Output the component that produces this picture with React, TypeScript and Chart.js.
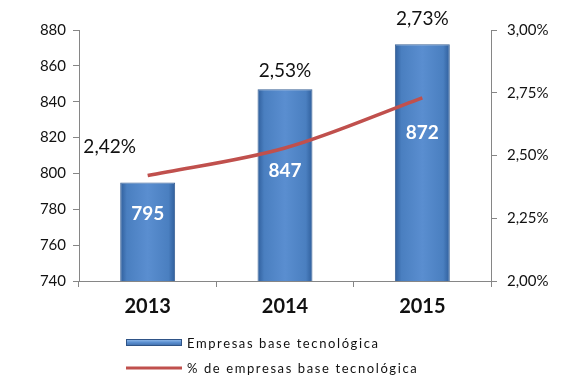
import React, { useEffect, useRef } from "react";
import { Chart, registerables } from "chart.js";

Chart.register(...registerables);

const categories = ["2013", "2014", "2015"];
const empresas = [795, 847, 872];
const porcentaje = [2.42, 2.53, 2.73];
const leftTicks = [740, 760, 780, 800, 820, 840, 860, 880];
const rightTicks = [2.0, 2.25, 2.5, 2.75, 3.0];
const seriesNames = ["Empresas base tecnológica", "% de empresas base tecnológica"];

const FONT = "Lato, 'Open Sans', 'DejaVu Sans', sans-serif";
const fmtPct = (v: number) => v.toFixed(2).replace(".", ",") + "%";

const labelsPlugin = {
  id: "customLabels",
  afterDatasetsDraw(chart: any) {
    const ctx = chart.ctx;
    const barMeta = chart.getDatasetMeta(1);
    const pctOffsets = [
      [-38, -36],
      [0, -18],
      [0, -25],
    ];
    const barOffsets = [31, 82, 89];
    ctx.save();
    ctx.textAlign = "center";
    ctx.textBaseline = "middle";
    barMeta.data.forEach((el: any, i: number) => {
      ctx.fillStyle = "#ffffff";
      ctx.font = `bold 19px ${FONT}`;
      ctx.fillText(String(empresas[i]), el.x, el.y + barOffsets[i]);
      ctx.fillStyle = "#111111";
      ctx.font = `19px ${FONT}`;
      ctx.fillText(fmtPct(porcentaje[i]), el.x + pctOffsets[i][0], el.y + pctOffsets[i][1]);
    });
    ctx.restore();
  },
  afterDraw(chart: any) {
    const ctx = chart.ctx;
    ctx.save();
    const bx = 126, by = 339, bw = 56, bh = 7;
    const g = ctx.createLinearGradient(0, by, 0, by + bh);
    g.addColorStop(0, "#9cc3ef");
    g.addColorStop(0.5, "#5b8fd0");
    g.addColorStop(1, "#3d6aa5");
    ctx.fillStyle = g;
    ctx.fillRect(bx, by, bw, bh);
    ctx.strokeStyle = "#2f5487";
    ctx.lineWidth = 1;
    ctx.strokeRect(bx + 0.5, by + 0.5, bw - 1, bh - 1);
    ctx.strokeStyle = "#c0504d";
    ctx.lineWidth = 3;
    ctx.beginPath();
    ctx.moveTo(126, 368);
    ctx.lineTo(182, 368);
    ctx.stroke();
    ctx.fillStyle = "#111111";
    ctx.font = `13px ${FONT}`;
    ctx.textAlign = "left";
    ctx.textBaseline = "middle";
    try {
      (ctx as any).letterSpacing = "1.6px";
    } catch (e) {}
    ctx.fillText(seriesNames[0], 187, 344);
    ctx.fillText(seriesNames[1], 187, 369);
    ctx.restore();
  },
};

export default function App() {
  const ref = useRef<HTMLCanvasElement>(null);
  useEffect(() => {
    document.body.style.margin = "0";
    const canvas = ref.current!;
    const chart = new Chart(canvas, {
      data: {
        labels: categories,
        datasets: [
          {
            type: "line",
            label: seriesNames[1],
            data: porcentaje,
            yAxisID: "y1",
            borderColor: "#c0504d",
            borderWidth: 3.5,
            pointRadius: 0,
            tension: 0.4,
            cubicInterpolationMode: "monotone",
            order: 0,
          } as any,
          {
            type: "bar",
            label: seriesNames[0],
            data: empresas,
            yAxisID: "y",
            order: 1,
            barPercentage: 0.4,
            categoryPercentage: 1,
            borderColor: "#3a6296",
            borderWidth: 1,
            backgroundColor: (c: any) => {
              const ch = c.chart;
              const xs = ch.scales && ch.scales.x;
              if (!xs || c.dataIndex === undefined || !ch.chartArea) return "#4f81bd";
              const cx = xs.getPixelForValue(c.dataIndex);
              const w = (xs.width / categories.length) * 0.4;
              const grad = ch.ctx.createLinearGradient(cx - w / 2, 0, cx + w / 2, 0);
              grad.addColorStop(0, "#2f5e9b");
              grad.addColorStop(0.12, "#4a7fc0");
              grad.addColorStop(0.5, "#5a8ed0");
              grad.addColorStop(0.88, "#4a7fc0");
              grad.addColorStop(1, "#2f5e9b");
              return grad;
            },
          } as any,
        ],
      },
      options: {
        animation: false,
        responsive: false,
        devicePixelRatio: 1,
        layout: { padding: { top: 30, left: 0, right: 0, bottom: 0 } },
        plugins: {
          legend: { display: false },
          tooltip: { enabled: false },
        },
        scales: {
          x: {
            grid: {
              display: true,
              drawOnChartArea: false,
              tickLength: 6,
              color: "#868686",
              offset: true,
            },
            border: { color: "#868686", width: 1 },
            ticks: {
              color: "#111111",
              font: { family: FONT, size: 20, weight: "bold" },
              padding: 8,
            },
            afterFit: (s: any) => {
              s.height = 96;
            },
          },
          y: {
            position: "left",
            min: 740,
            max: 880,
            afterBuildTicks: (s: any) => {
              s.ticks = leftTicks.map((v) => ({ value: v }));
            },
            grid: {
              display: true,
              drawOnChartArea: false,
              tickLength: 6,
              color: "#868686",
            },
            border: { color: "#868686", width: 1 },
            ticks: {
              color: "#111111",
              font: { family: FONT, size: 15 },
              padding: 7,
            },
            afterFit: (s: any) => {
              s.width = 79;
            },
          },
          y1: {
            position: "right",
            min: 2,
            max: 3,
            afterBuildTicks: (s: any) => {
              s.ticks = rightTicks.map((v) => ({ value: v }));
            },
            grid: {
              display: true,
              drawOnChartArea: false,
              tickLength: 6,
              color: "#868686",
            },
            border: { color: "#868686", width: 1 },
            ticks: {
              color: "#111111",
              font: { family: FONT, size: 15 },
              padding: 10,
              callback: (v: any) => fmtPct(Number(v)),
            },
            afterFit: (s: any) => {
              s.width = 75;
            },
          },
        },
      } as any,
      plugins: [labelsPlugin],
    });
    return () => chart.destroy();
  }, []);
  return (
    <div style={{ position: "absolute", left: 0, top: 0, width: 566, height: 377, background: "#fff" }}>
      <canvas ref={ref} width={566} height={377} />
    </div>
  );
}
